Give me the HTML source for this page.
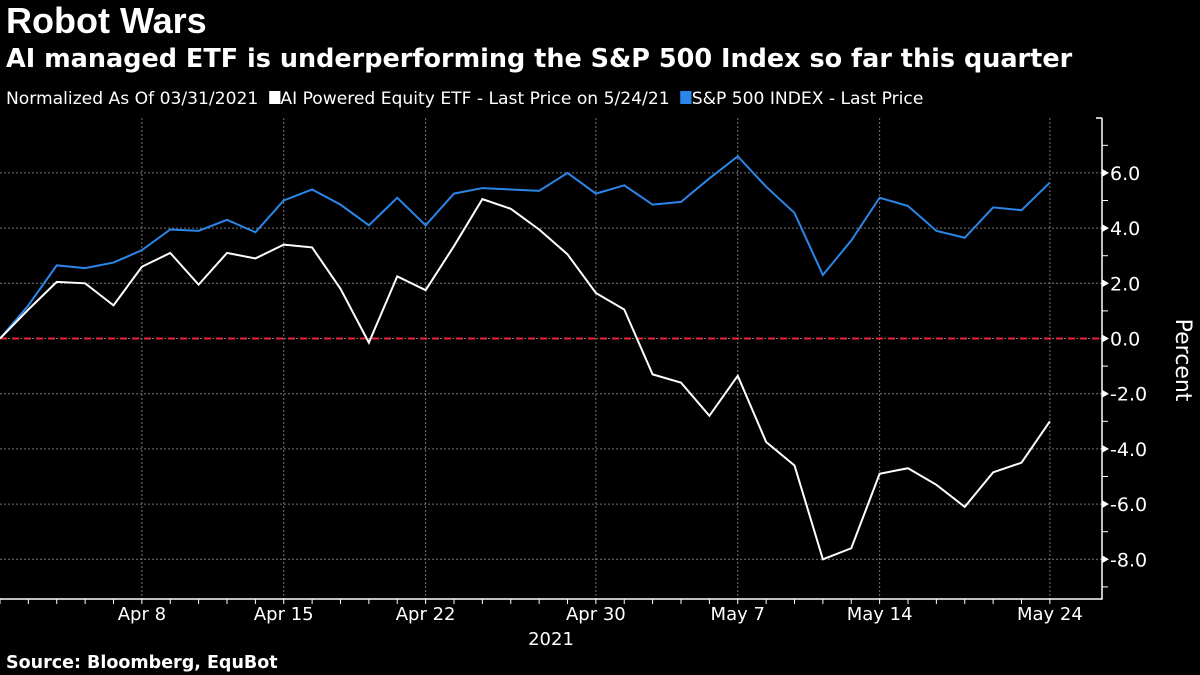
<!DOCTYPE html>
<html><head><meta charset="utf-8"><style>
body{margin:0;background:#000;width:1200px;height:675px;overflow:hidden;font-family:"DejaVu Sans","Liberation Sans",sans-serif;color:#fff}
.t{position:absolute;left:6px;white-space:nowrap}
</style></head><body>
<div class="t" style="top:0px;font-size:36px;font-weight:bold;font-family:'Liberation Sans',sans-serif">Robot Wars</div>
<div class="t" style="top:44px;font-size:25.5px;font-weight:bold">AI managed ETF is underperforming the S&amp;P 500 Index so far this quarter</div>
<div class="t" style="top:89px;font-size:17px;font-family:'DejaVu Sans Condensed','DejaVu Sans',sans-serif;transform:scaleX(1.12);transform-origin:0 0">Normalized As Of 03/31/2021 &nbsp;<span><span style="display:inline-block;width:10px;height:13px;background:#fff"></span>AI Powered Equity ETF - Last Price on 5/24/21</span> &nbsp;<span><span style="display:inline-block;width:10px;height:13px;background:#2a86e8"></span>S&amp;P 500 INDEX - Last Price</span></div>
<div class="t" style="top:653px;font-size:17.5px;font-weight:bold">Source: Bloomberg, EquBot</div>
<svg id="c" width="1200" height="675" style="position:absolute;left:0;top:0"></svg>
<script>
const etf=[0,1.05,2.05,2.0,1.2,2.6,3.1,1.95,3.1,2.9,3.4,3.3,1.8,-0.15,2.25,1.75,3.35,5.05,4.7,3.95,3.05,1.65,1.05,-1.3,-1.6,-2.8,-1.35,-3.75,-4.6,-8.0,-7.6,-4.9,-4.7,-5.3,-6.1,-4.85,-4.5,-3.0];
const spx=[0,1.2,2.65,2.55,2.75,3.2,3.95,3.9,4.3,3.85,5.0,5.4,4.85,4.1,5.1,4.1,5.25,5.45,5.4,5.35,6.0,5.25,5.55,4.85,4.95,5.8,6.6,5.5,4.55,2.3,3.55,5.1,4.8,3.9,3.65,4.75,4.65,5.65];
const yTicks=[6,4,2,0,-2,-4,-6,-8];
const xLabels=[[5,"Apr 8"],[10,"Apr 15"],[15,"Apr 22"],[21,"Apr 30"],[26,"May 7"],[31,"May 14"],[37,"May 24"]];
const svg=document.getElementById('c'),NS='http://www.w3.org/2000/svg';
const X=i=>i*28.375,Y=v=>338.5-v*27.6;
function mk(t,a,p){const e=document.createElementNS(NS,t);for(const k in a)e.setAttribute(k,a[k]);(p||svg).appendChild(e);return e;}
yTicks.forEach(v=>{const g=mk('line',{x1:0,x2:1102,y1:Y(v),y2:Y(v),stroke:'#777','stroke-dasharray':'2,2','stroke-width':1});

const tr=mk('path',{d:`M1102 ${Y(v)-4}L1109 ${Y(v)}L1102 ${Y(v)+4}Z`,fill:'#fff'});
const t=mk('text',{x:1110,y:Y(v)+7,fill:'#fff','font-size':19,'font-family':'DejaVu Sans, sans-serif'});t.textContent=v.toFixed(1);
});
[7,5,3,1,-1,-3,-5,-7,-9].forEach(v=>{const l=mk('line',{x1:1102,x2:1108,y1:Y(v),y2:Y(v),stroke:'#fff'});});
xLabels.forEach(([i,s])=>{const g=mk('line',{x1:X(i),x2:X(i),y1:118,y2:599,stroke:'#777','stroke-dasharray':'2,2'});

const t=mk('text',{x:X(i),y:620,fill:'#fff','font-size':18,'text-anchor':'middle','font-family':'DejaVu Sans, sans-serif'});t.textContent=s;
});
for(let i=0;i<etf.length;i++){const l=mk('line',{x1:X(i),x2:X(i),y1:599,y2:604,stroke:'#fff'});}
const yr=mk('text',{x:551,y:645,fill:'#fff','font-size':18,'text-anchor':'middle','font-family':'DejaVu Sans, sans-serif'});yr.textContent='2021';

const ax=mk('path',{d:'M1102 118H1096M1102 118V599H0',stroke:'#fff',fill:'none','stroke-width':1.5});
const z=mk('line',{x1:0,x2:1102,y1:Y(0),y2:Y(0),stroke:'#e8233a','stroke-width':2,'stroke-dasharray':'7,5'});
const p1=mk('polyline',{points:spx.map((v,i)=>X(i)+','+Y(v)).join(' '),fill:'none',stroke:'#2a86e8','stroke-width':2});

const p2=mk('polyline',{points:etf.map((v,i)=>X(i)+','+Y(v)).join(' '),fill:'none',stroke:'#fff','stroke-width':2});

const pt=mk('text',{x:1176,y:360,fill:'#fff','font-size':22,'text-anchor':'middle','font-family':'DejaVu Sans, sans-serif',transform:'rotate(90 1176 360)'});pt.textContent='Percent';

</script></body></html>
